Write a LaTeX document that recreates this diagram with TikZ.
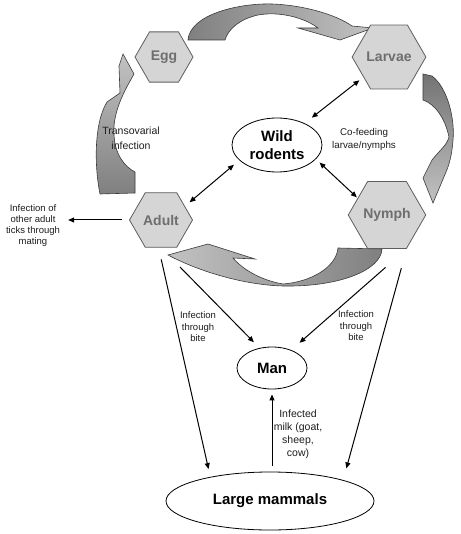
\documentclass[tikz,border=0pt]{standalone}
\usepackage{fontspec}
\setmainfont{Liberation Sans}
\usetikzlibrary{shapes.geometric,arrows.meta}
\definecolor{hexfill}{HTML}{D5D5D5}
\definecolor{hexdraw}{HTML}{5E5E5E}
\definecolor{hextext}{HTML}{6E6E6E}
\definecolor{bdark}{HTML}{808080}
\definecolor{blight}{HTML}{C2C2C2}
\definecolor{bline}{HTML}{3A3A3A}
\definecolor{lbltext}{HTML}{1E1E1E}
\begin{document}
\begin{tikzpicture}[x=1pt,y=-1pt,
  hexa/.style={regular polygon, regular polygon sides=6, minimum size=#1, inner sep=0pt,
    fill=hexfill, draw=hexdraw, line width=0.8pt,
    font=\fontsize{14}{16}\selectfont\bfseries, text=hextext},
  oval/.style={ellipse, draw=black, line width=0.8pt, fill=white, inner sep=0pt,
    align=center, font=\fontsize{15}{17.5}\selectfont\bfseries},
  lbl/.style={align=center, inner sep=0pt, text=lbltext},
  blockarrow/.style={draw=bline, line width=0.6pt},
  arr/.style={-{Triangle[length=6pt,width=5pt]}, line width=1pt},
  dbl/.style={{Triangle[length=6pt,width=5pt]}-{Triangle[length=6pt,width=5pt]}, line width=1pt}
]
\useasboundingbox (0,0) rectangle (460,534);
\fill[white] (0,0) rectangle (460,534);

% block arrows of the life cycle
% Egg -> Larvae (top)
\shadedraw[blockarrow, left color=bdark, right color=blight]
  (188,40) .. controls (190,14) and (240,3) .. (272,4)
  .. controls (302,5) and (335,14) .. (352,26) -- (373,28) -- (340,40) -- (298,28) -- (318,28)
  .. controls (305,18) and (280,11) .. (258,15)
  .. controls (240,19) and (228,29) .. (225,40) -- cycle;
% Larvae -> Nymph (right)
\shadedraw[blockarrow, top color=bdark!90!black, bottom color=blight]
  (423,74) -- (432,76) .. controls (448,88) and (455,120) .. (453,140)
  .. controls (452,155) and (449,165) .. (446,172) -- (433,203) -- (423,178) -- (432,160)
  .. controls (440,150) and (447,145) .. (449,137)
  .. controls (445,118) and (435,104) .. (423,100) -- cycle;
% Nymph -> Adult (bottom)
\shadedraw[blockarrow, left color=blight, right color=bdark]
  (338,248) -- (382,249) .. controls (381,270) and (340,287) .. (283,286)
  .. controls (245,285) and (200,272) .. (168,255) -- (208,244) -- (255,259) -- (233,258)
  .. controls (245,272) and (265,281) .. (283,284)
  .. controls (310,282) and (336,268) .. (338,248) -- cycle;
% Adult -> Egg (left)
\shadedraw[blockarrow, top color=blight, bottom color=bdark]
  (100,194) .. controls (95,170) and (93,125) .. (107,102) -- (120,93) -- (119,66) -- (123,54)
  -- (134,74) .. controls (128,85) and (112,110) .. (114,135)
  .. controls (115,155) and (125,167) .. (135,172) -- (135,193) -- cycle;

% hexagons
\node[hexa=58] (egg) at (164,57) {Egg};
\node[hexa=56] (larvae) at (389,57) {Larvae};
\node[hexa=63] (adult) at (161,220) {Adult};
\node[hexa=65] (nymph) at (387,215) {Nymph};

% hosts
\node[oval, minimum width=90pt, minimum height=54pt] (rodents) at (277,145) {Wild\\rodents};
\node[oval, minimum width=70pt, minimum height=42pt] (man) at (272,368) {Man};
\node[oval, minimum width=208pt, minimum height=58pt] (mammals) at (270,501) {Large mammals};

% labels
\node[lbl, font=\fontsize{10.5}{15.5}\selectfont] (transov) at (131,138) {Transovarial\\infection};
\node[lbl, font=\fontsize{9.8}{13}\selectfont] (cofeed) at (364,139) {Co-feeding\\larvae/nymphs};
\node[lbl, font=\fontsize{9.5}{11}\selectfont] (mating) at (33,226) {Infection of\\other adult\\ticks through\\mating};
\node[lbl, font=\fontsize{9.5}{11.5}\selectfont] (biteL) at (198,327) {Infection\\through\\bite};
\node[lbl, font=\fontsize{9.5}{11.5}\selectfont] (biteR) at (356,326) {Infection\\through\\bite};
\node[lbl, font=\fontsize{10.5}{13}\selectfont] (milk) at (298,434) {Infected\\milk (goat,\\sheep,\\cow)};

% connectors
\draw[dbl, shorten <=5pt, shorten >=9pt] (larvae) -- (rodents);
\draw[dbl, shorten <=7pt, shorten >=6pt] (rodents.202) -- (adult.30);
\draw[dbl, shorten <=5pt, shorten >=1pt] (rodents.340) -- (nymph.150);
\draw[arr, shorten <=7.5pt, shorten >=8pt] (adult.west) -- (adult.west -| mating.east);
\draw[arr, shorten <=12pt, shorten >=8pt] (adult.265) -- (mammals.158);
\draw[arr, shorten <=27pt, shorten >=8pt] (adult.south) -- (man.122);
\draw[arr, shorten <=28pt, shorten >=11pt] (nymph.300) -- (man.43);
\draw[arr, shorten <=20pt, shorten >=12pt] (nymph.300) -- (mammals.16);
\draw[arr, shorten <=6pt, shorten >=5pt] (mammals.north -| man.south) -- (man.south);
\end{tikzpicture}
\end{document}
